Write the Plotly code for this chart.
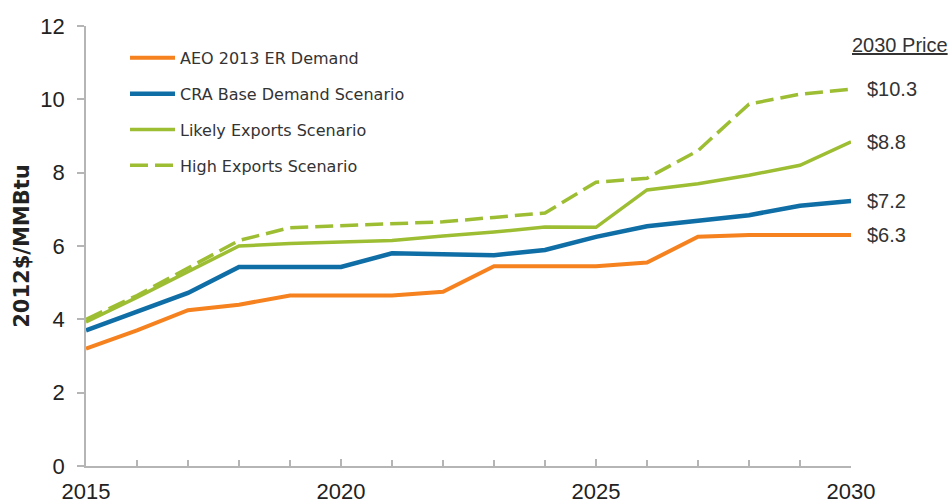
import plotly.graph_objects as go

years = list(range(2015, 2031))
aeo = [3.2, 3.7, 4.25, 4.4, 4.65, 4.65, 4.65, 4.75, 5.45, 5.45, 5.45, 5.55, 6.25, 6.3, 6.3, 6.3]
cra = [3.7, 4.2, 4.72, 5.43, 5.43, 5.43, 5.8, 5.78, 5.75, 5.89, 6.25, 6.54, 6.7, 6.84, 7.1, 7.23]
likely = [3.93, 4.6, 5.3, 6.0, 6.07, 6.1, 6.15, 6.27, 6.38, 6.52, 6.51, 7.53, 7.7, 7.93, 8.2, 8.84]
high = [4.0, 4.65, 5.4, 6.15, 6.5, 6.55, 6.6, 6.66, 6.78, 6.9, 7.74, 7.85, 8.6, 9.87, 10.14, 10.28]
names = ["AEO 2013 ER Demand", "CRA Base Demand Scenario", "Likely Exports Scenario", "High Exports Scenario"]
end_labels = ["$6.3", "$7.2", "$8.8", "$10.3"]
x_labels = [2015, 2020, 2025, 2030]

ORANGE = "#F5821F"
BLUE = "#0F6EA6"
GREEN = "#9DBE33"
AXIS = "#B5B5B5"
FONT = "Liberation Sans, Arial"

fig = go.Figure()
series = [(aeo, ORANGE, "solid", 4), (cra, BLUE, "solid", 4.5), (likely, GREEN, "solid", 3.5), (high, GREEN, "18px,7px", 3.5)]
for i, (vals, col, dash, w) in enumerate(series):
    fig.add_trace(go.Scatter(x=years, y=vals, mode="lines", name=names[i],
                             line=dict(color=col, width=w, dash=dash),
                             legendgroup=str(i)))

for vals, lab in zip([aeo, cra, likely, high], end_labels):
    fig.add_annotation(x=years[-1], y=vals[-1], text=lab, showarrow=False,
                       xanchor="left", xshift=14, yshift=0,
                       font=dict(size=20, color="#333333", family=FONT))

fig.add_annotation(x=1.0, xref="paper", y=11.47, text="<u>2030 Price</u>", showarrow=False,
                   xanchor="left", xshift=-1,
                   font=dict(size=20, color="#333333", family=FONT))

fig.update_layout(
    width=951, height=504,
    margin=dict(l=86, r=100, t=26, b=38),
    paper_bgcolor="white", plot_bgcolor="white",
    font=dict(family=FONT, color="#222222"),
    showlegend=True,
    legend=dict(x=0.051, y=0.966, xanchor="left", yanchor="top",
                font=dict(size=16, color="#333333", family="DejaVu Sans, Verdana"),
                traceorder="grouped", tracegroupgap=12, itemwidth=45,
                bgcolor="rgba(0,0,0,0)"),
    xaxis=dict(range=[2015, 2030], tickvals=x_labels,
               ticks="inside", ticklen=7, tickcolor=AXIS, tickwidth=1.5,
               minor=dict(dtick=1, ticks="inside", ticklen=6, tickcolor=AXIS, tickwidth=1.5),
               showline=True, linecolor=AXIS, linewidth=1.5,
               showgrid=False, zeroline=False, automargin=False,
               ticklabelstandoff=5,
               tickfont=dict(size=22, color="#222222")),
    yaxis=dict(range=[0, 12], dtick=2, ticks="outside", ticklen=7, tickcolor=AXIS, tickwidth=1.5,
               showline=True, linecolor=AXIS, linewidth=1.5,
               showgrid=False, zeroline=False, automargin=False,
               ticklabelstandoff=8,
               tickfont=dict(size=22, color="#222222"),
               title=dict(text="<b>2012$/MMBtu</b>", font=dict(size=21, color="#222222",
                                                           family="DejaVu Sans, Arial"), standoff=5)),
)

fig.write_html("out.html", post_script="document.body.style.margin='0';",
               config={"displayModeBar": False})
